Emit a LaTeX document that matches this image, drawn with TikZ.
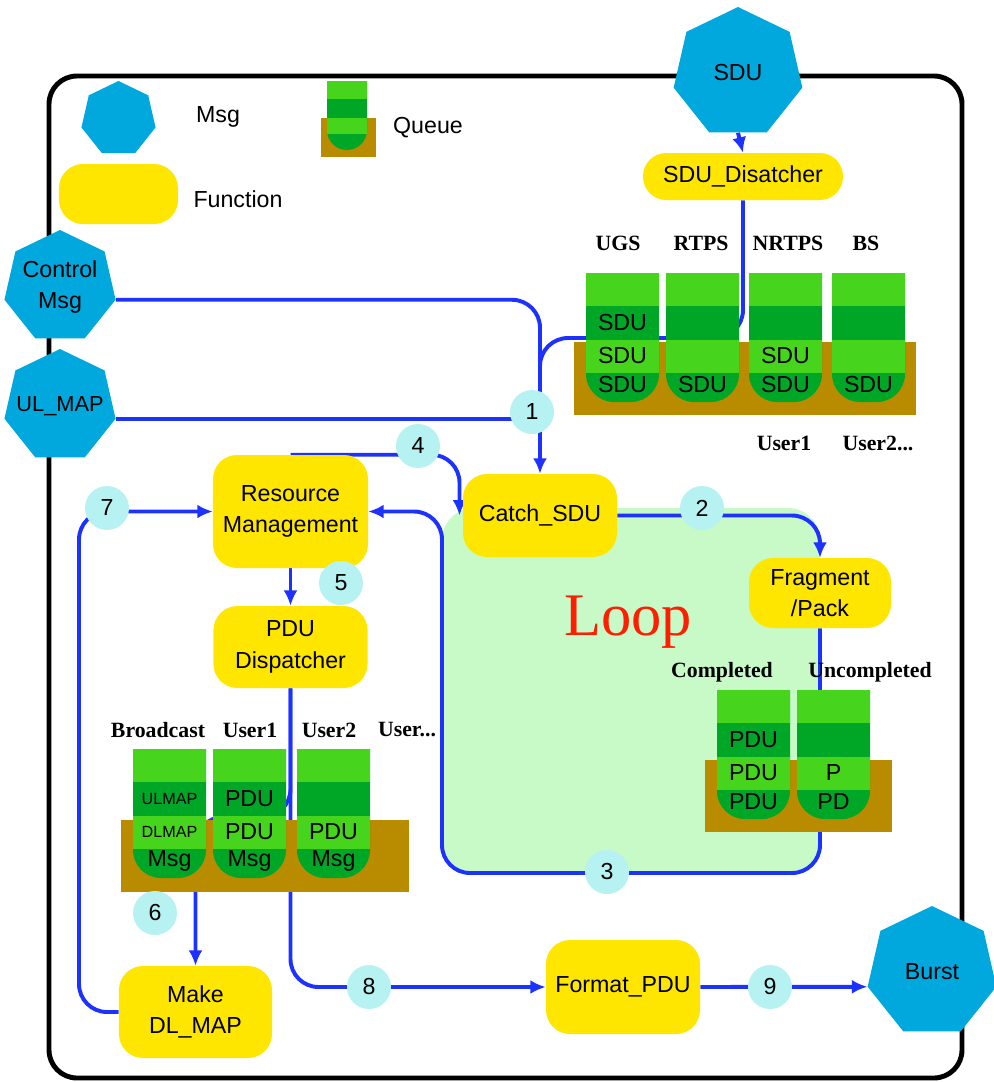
\documentclass[tikz,border=0pt]{standalone}
\usepackage{fontspec}
\setmainfont{Liberation Serif}
\setsansfont{Liberation Sans}
\usepackage{xcolor}
\usetikzlibrary{shapes.geometric,arrows.meta,positioning,calc}

\definecolor{msgblue}{RGB}{0,168,222}
\definecolor{fnyellow}{RGB}{255,230,0}
\definecolor{flowblue}{RGB}{30,50,255}
\definecolor{numcyan}{RGB}{182,242,242}
\definecolor{qlight}{RGB}{70,212,28}
\definecolor{qdark}{RGB}{0,166,38}
\definecolor{qbrown}{RGB}{185,140,0}
\definecolor{loopgreen}{RGB}{200,250,200}
\definecolor{loopred}{RGB}{255,30,0}

\pgfdeclarelayer{background}
\pgfdeclarelayer{flows}
\pgfsetlayers{background,flows,main}

\tikzset{
  fn/.style={fill=fnyellow, rounded corners=6mm, align=center, inner sep=0pt,
    font=\sffamily\fontsize{16.5}{22.5}\selectfont},
  msg/.style={regular polygon, regular polygon sides=7, fill=msgblue, inner sep=0pt,
    align=center, font=\sffamily\fontsize{16.5}{22.5}\selectfont},
  num/.style={circle, fill=numcyan, minimum size=11mm, inner sep=0pt,
    font=\sffamily\fontsize{16.5}{19.5}\selectfont},
  flow/.style={draw=flowblue, line width=2.8pt, rounded corners=7mm},
  flowtip/.style={-{Latex[length=11pt,width=10pt]}},
  qtxt/.style={font=\sffamily\fontsize{16.5}{19.5}\selectfont, inner sep=0pt},
  qlab/.style={font=\bfseries\fontsize{15.5}{18}\selectfont, inner sep=0pt},
  lgd/.style={font=\sffamily\fontsize{16.5}{19.5}\selectfont, inner sep=0pt},
}

\newcommand{\smq}{\fontsize{11.5}{13}\selectfont}
% one queue column: name, left x, top y, four row texts
\newcommand{\qcol}[7]{%
  \begin{scope}
    \clip (#2,#3) rectangle ++(73,129);
    \fill[qdark,rounded corners=7mm] (#2,#3-40) rectangle ++(73,169);
  \end{scope}
  \fill[qlight] (#2,#3) rectangle ++(73,33);
  \fill[qlight] (#2,#3+67) rectangle ++(73,33);
  \node[qtxt] (#1-1) at (#2+36.5,#3+17) {#4};
  \node[qtxt] (#1-2) at (#2+36.5,#3+50) {#5};
  \node[qtxt] (#1-3) at (#2+36.5,#3+83) {#6};
  \node[qtxt] (#1-4) at (#2+36.5,#3+112) {#7};
}

\begin{document}
\begin{tikzpicture}[x=0.25mm,y=-0.25mm]
	\useasboundingbox (0,0) rectangle (994,1082);
	% frame and loop area
	\begin{pgfonlayer}{background}
		\draw[line width=3.5pt, rounded corners=7mm] (49,76) rectangle (962,1078);
		\fill[loopgreen, rounded corners=8mm] (442,508) rectangle (820,873);
	\end{pgfonlayer}

	% legend
	\node[msg, minimum size=19mm] (lgdmsg) at (118.5,119) {};
	\node[lgd] (lgdmsgtxt) at (218,117) {Msg};
	\node[fn, minimum width=29.75mm, minimum height=15mm] (lgdfn) at (118.5,194) {};
	\node[lgd] (lgdfntxt) at (238,199) {Function};
	\fill[qbrown] (321,118) rectangle (376,157);
	\begin{scope}
		\clip (327,81) rectangle (367,150);
		\fill[qdark, rounded corners=5mm] (327,40) rectangle (367,150);
	\end{scope}
	\fill[qlight] (327,81) rectangle (367,99);
	\fill[qlight] (327,118) rectangle (367,134);
	\node[lgd] (lgdqtxt) at (428,128) {Queue};

	% messages
	\node[msg, minimum size=33mm] (sdu) at (738,73) {SDU};
	\node[msg, minimum size=28.5mm, inner xsep=-2mm] (ctrl) at (60,287) {Control\\Msg};
	\node[msg, minimum size=28.5mm, inner xsep=-4mm, font=\sffamily\fontsize{15.5}{20}\selectfont] (ulmap) at (60,406) {UL\_MAP};
	\node[msg, minimum size=33mm] (burst) at (932,972) {Burst};

	% functions
	\node[fn, rounded corners=5.8mm, minimum width=50mm, minimum height=11.75mm] (disp) at (743,176.5) {SDU\_Disatcher};
	\node[fn, minimum width=38.75mm, minimum height=28.25mm] (res) at (290.5,511.5) {Resource\\Management};
	\node[fn, minimum width=38.5mm, minimum height=20.5mm] (pdud) at (290.5,647) {PDU\\Dispatcher};
	\node[fn, minimum width=38.5mm, minimum height=20.75mm] (catch) at (540,515.5) {Catch\_SDU};
	\node[fn, minimum width=35.5mm, minimum height=17.5mm] (frag) at (820,593) {Fragment\\/Pack};
	\node[fn, minimum width=38.5mm, minimum height=23.5mm] (fmt) at (623,987) {Format\_PDU};
	\node[fn, minimum width=38.25mm, minimum height=23mm] (mkmap) at (195.5,1012) {Make\\DL\_MAP};

	\node[font=\fontsize{43}{43}\selectfont, text=loopred] (loop) at (628,622) {Loop};

	% SDU queues
	\fill[qbrown] (574,342) rectangle (916,415);
	\qcol{ugs}{586}{273}{}{SDU}{SDU}{SDU}
	\qcol{rtps}{666}{273}{}{}{}{SDU}
	\qcol{nrtps}{749}{273}{}{}{SDU}{SDU}
	\qcol{bs}{832}{273}{}{}{}{SDU}
	\node[qlab] (lugs) at (618,243) {UGS};
	\node[qlab] (lrtps) at (701,243) {RTPS};
	\node[qlab] (lnrtps) at (788,243) {NRTPS};
	\node[qlab] (lbs) at (866,243) {BS};
	\node[qlab] (lusr1) at (784,443) {User1};
	\node[qlab] (lusr2) at (878,443) {User2...};

	% PDU queues
	\fill[qbrown] (121,820) rectangle (409,892);
	\qcol{bcast}{133}{749}{}{\smq ULMAP}{\smq DLMAP}{Msg}
	\qcol{usra}{213}{749}{}{PDU}{PDU}{Msg}
	\qcol{usrb}{297}{749}{}{}{PDU}{Msg}
	\node[qlab] (lbcast) at (158,730) {Broadcast};
	\node[qlab] (lusra) at (250,730) {User1};
	\node[qlab] (lusrb) at (329,730) {User2};
	\node[qlab] (lusrc) at (407,730) {User...};

	% fragment queues
	\fill[qbrown] (705,760) rectangle (892,832);
	\qcol{cmpl}{717}{690}{}{PDU}{PDU}{PDU}
	\qcol{ucmpl}{797}{690}{}{}{P}{PD}
	\node[qlab] (lcmpl) at (722,672) {Completed};
	\node[qlab] (lucmpl) at (870,672) {Uncompleted};

	% step numbers
	\node[num] (n1) at (532,412) {1};
	\node[num] (n2) at (702,508) {2};
	\node[num] (n3) at (607,872) {3};
	\node[num] (n4) at (418,446) {4};
	\node[num] (n5) at (341,583) {5};
	\node[num] (n6) at (155,913) {6};
	\node[num] (n7) at (107,508) {7};
	\node[num] (n8) at (369,987) {8};
	\node[num] (n9) at (770,987) {9};

	% flows
	\coordinate (sdujoin) at (540,338);
	\coordinate (loopbl) at (442,873);
	\coordinate (mapbend) at (195.5,817);
	\coordinate (leftbend) at (79,511.5);
	\begin{pgfonlayer}{flows}
		\draw[flow,flowtip] (sdu.south) -- (disp.north);
		\draw[flow,flowtip] (ctrl.corner 6) -| (catch.north);
		\draw[flow] (ulmap.corner 6) -- (ulmap.corner 6 -| catch.north);
		\draw[flow] (disp.south) |- (sdujoin) -- (sdujoin |- n1);
		\draw[flow,flowtip] (res.north) -| ([xshift=-0.8mm]catch.west);
		\draw[flow,flowtip] (catch.east) -| (frag.north);
		\draw[flow,flowtip] (frag.south) |- (loopbl) |- (res.east);
		\draw[flow,flowtip] (res.south) -- (pdud.north);
		\draw[flow,flowtip] (pdud.south) |- (mapbend) -- (mkmap.north);
		\draw[flow,flowtip] (pdud.south) |- (fmt.west);
		\draw[flow,flowtip] (fmt.east) -- (burst.corner 3);
		\draw[flow,flowtip] (mkmap.west) -| (leftbend) -- (res.west);
	\end{pgfonlayer}
\end{tikzpicture}
\end{document}
